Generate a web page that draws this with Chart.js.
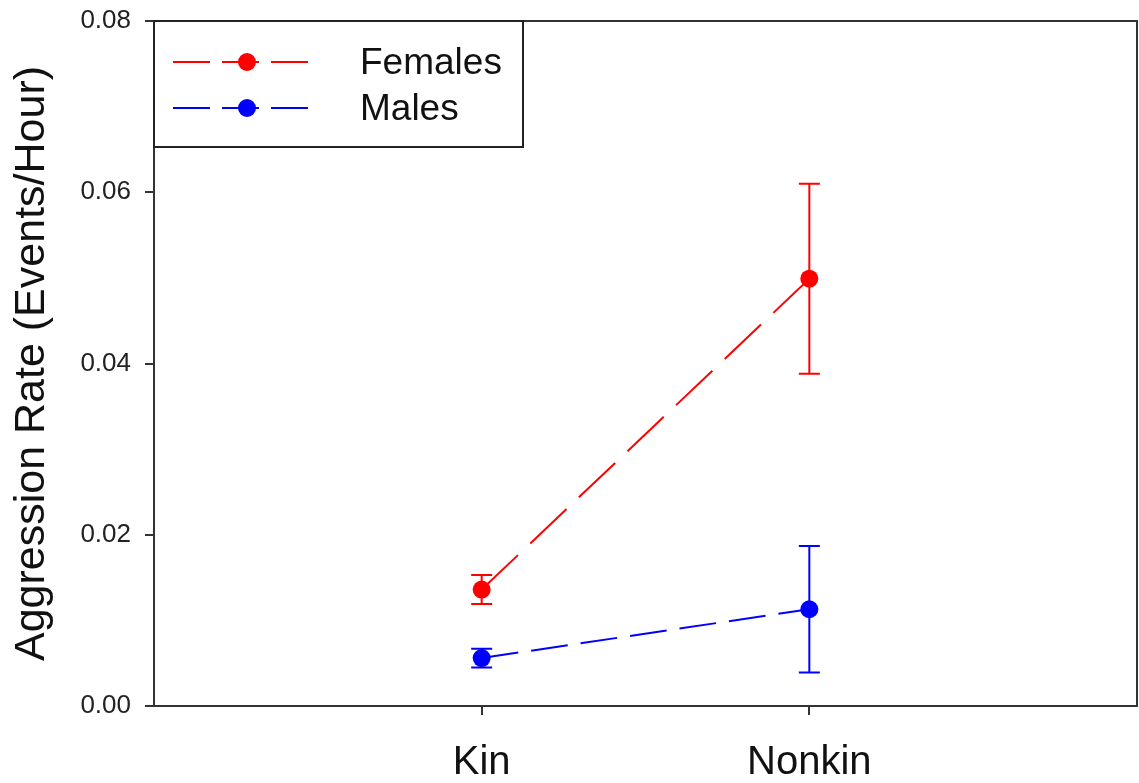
<!DOCTYPE html>
<html>
<head>
<meta charset="utf-8">
<title>Aggression Rate by Kinship</title>
<script src="https://cdn.jsdelivr.net/npm/chart.js@4/dist/chart.umd.min.js"></script>
<style>
  html, body { margin: 0; padding: 0; background: #fff; overflow: hidden; }
  #aggressionChart { display: block; }
</style>
</head>
<body>
<canvas id="aggressionChart" width="1139" height="783"></canvas>
<script>
// group means and standard errors (events per hour)
const categories = ["Kin", "Nonkin"];
const femaleRates = [0.0136, 0.0499];
const femaleErrors = [0.0017, 0.0111];
const maleRates = [0.0056, 0.0113];
const maleErrors = [0.0011, 0.0074];
const seriesNames = ["Females", "Males"];

const FONT = "'Liberation Sans', Arial, sans-serif";
const AXIS_COLOR = "#333";

function points(values) {
  return values.map((v, i) => ({ x: i + 1, y: v }));
}

// keep label overflow from shrinking the plot area
function noOverflow(scale) {
  scale.paddingLeft = 0;
  scale.paddingRight = 0;
  scale.paddingTop = 0;
  scale.paddingBottom = 0;
}

// the layout leaves a few px spare on the right; stretch the plot to 2px from the edge
const fullWidth = {
  id: "fullWidth",
  afterLayout(chart) {
    const a = chart.chartArea;
    const x = chart.scales.x;
    const right = chart.width - 2;
    a.right = right;
    a.width = right - a.left;
    x.right = right;
    x.width = right - x.left;
    x.configure();
  },
};

// vertical error bars with caps, drawn under the lines and markers
const errorBars = {
  id: "errorBars",
  beforeDatasetsDraw(chart) {
    const { ctx, scales } = chart;
    ctx.save();
    chart.data.datasets.forEach((ds) => {
      ctx.strokeStyle = ds.borderColor;
      ctx.lineWidth = 2;
      ctx.setLineDash([]);
      ds.data.forEach((pt, i) => {
        const err = ds.errors[i];
        const x = scales.x.getPixelForValue(pt.x);
        const top = scales.y.getPixelForValue(pt.y + err);
        const bottom = scales.y.getPixelForValue(pt.y - err);
        ctx.beginPath();
        ctx.moveTo(x, top);
        ctx.lineTo(x, bottom);
        ctx.moveTo(x - 10.5, top);
        ctx.lineTo(x + 10.5, top);
        ctx.moveTo(x - 10.5, bottom);
        ctx.lineTo(x + 10.5, bottom);
        ctx.stroke();
      });
    });
    ctx.restore();
  },
};

// top/right frame of the plot and the boxed legend in the upper left
const frameAndLegend = {
  id: "frameAndLegend",
  afterDraw(chart) {
    const { ctx, chartArea: a } = chart;
    ctx.save();
    ctx.strokeStyle = AXIS_COLOR;
    ctx.lineWidth = 2;
    ctx.setLineDash([]);
    ctx.beginPath();
    ctx.moveTo(a.left, a.top);
    ctx.lineTo(a.right, a.top);
    ctx.lineTo(a.right, a.bottom);
    ctx.stroke();

    // legend box
    const boxW = 369, boxH = 126;
    ctx.fillStyle = "#fff";
    ctx.fillRect(a.left, a.top, boxW, boxH);
    ctx.strokeStyle = "#222";
    ctx.strokeRect(a.left, a.top, boxW, boxH);

    chart.data.datasets.forEach((ds, i) => {
      const y = a.top + 41 + i * 46;
      ctx.strokeStyle = ds.borderColor;
      ctx.lineWidth = 2;
      ctx.setLineDash([37, 12]);
      ctx.beginPath();
      ctx.moveTo(a.left + 19, y);
      ctx.lineTo(a.left + 154, y);
      ctx.stroke();
      ctx.setLineDash([]);
      ctx.fillStyle = ds.backgroundColor;
      ctx.beginPath();
      ctx.arc(a.left + 93, y, 9, 0, Math.PI * 2);
      ctx.fill();

      ctx.fillStyle = "#111";
      ctx.font = "37px " + FONT;
      ctx.textBaseline = "alphabetic";
      ctx.textAlign = "left";
      ctx.fillText(ds.label, a.left + 206, y + 12);
    });
    ctx.restore();
  },
};

const ctx = document.getElementById("aggressionChart").getContext("2d");
new Chart(ctx, {
  type: "line",
  data: {
    datasets: [
      {
        label: seriesNames[0],
        data: points(femaleRates),
        errors: femaleErrors,
        borderColor: "#ff0000",
        backgroundColor: "#ff0000",
        borderWidth: 2,
        borderDash: [50, 17],
        pointRadius: 9,
        pointBorderWidth: 0,
        pointBackgroundColor: "#ff0000",
      },
      {
        label: seriesNames[1],
        data: points(maleRates),
        errors: maleErrors,
        borderColor: "#0000ff",
        backgroundColor: "#0000ff",
        borderWidth: 2,
        borderDash: [37, 13],
        pointRadius: 9,
        pointBorderWidth: 0,
        pointBackgroundColor: "#0000ff",
      },
    ],
  },
  options: {
    responsive: false,
    animation: false,
    layout: { padding: { top: 21, right: 2, left: 0, bottom: 0 } },
    plugins: {
      legend: { display: false },
      tooltip: { enabled: false },
    },
    scales: {
      x: {
        type: "linear",
        min: 0,
        max: 3,
        afterBuildTicks: (scale) => {
          scale.ticks = categories.map((_, i) => ({ value: i + 1 }));
        },
        afterFit: (scale) => {
          scale.height = 77;
          noOverflow(scale);
        },
        grid: {
          drawOnChartArea: false,
          drawTicks: true,
          tickLength: 9,
          color: AXIS_COLOR,
          lineWidth: 2,
        },
        border: { display: true, color: AXIS_COLOR, width: 2 },
        ticks: {
          autoSkip: false,
          maxRotation: 0,
          padding: 24,
          color: "#111",
          font: { family: FONT, size: 40 },
          callback: (v) => categories[v - 1],
        },
      },
      y: {
        min: 0,
        max: 0.08,
        afterFit: (scale) => {
          scale.width = 154;
          noOverflow(scale);
        },
        grid: {
          drawOnChartArea: false,
          drawTicks: true,
          tickLength: 9,
          color: AXIS_COLOR,
          lineWidth: 2,
        },
        border: { display: true, color: AXIS_COLOR, width: 2 },
        ticks: {
          stepSize: 0.02,
          padding: 14,
          color: "#222",
          font: { family: FONT, size: 26 },
          callback: (v) => v.toFixed(2),
        },
        title: {
          display: true,
          text: "Aggression Rate (Events/Hour)",
          color: "#111",
          font: { family: FONT, size: 43 },
          padding: { top: 6, bottom: 0 },
        },
      },
    },
  },
  plugins: [fullWidth, errorBars, frameAndLegend],
});
</script>
</body>
</html>
